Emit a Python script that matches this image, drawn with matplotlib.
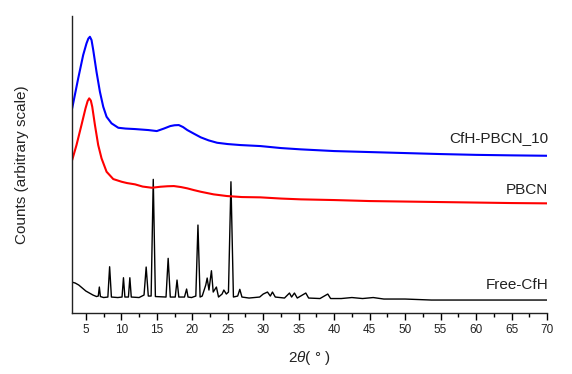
import matplotlib
matplotlib.use("Agg")
import matplotlib.pyplot as plt
from matplotlib.ticker import MultipleLocator

plt.rcParams['font.family'] = ['Liberation Sans', 'DejaVu Sans']
plt.rcParams['mathtext.fontset'] = 'custom'
plt.rcParams['mathtext.it'] = 'Liberation Sans:italic'
plt.rcParams['mathtext.rm'] = 'Liberation Sans'

# ---- data (2theta in degrees, counts in arbitrary stacked scale) ----
free_x = [3.0, 3.5, 4.0, 4.5, 5.0, 5.5, 6.0, 6.5, 6.75, 6.9, 7.05, 7.5, 8.1, 8.35, 8.6,
          9.5, 10.1, 10.3, 10.5, 11.0, 11.2, 11.4, 12.5, 13.2, 13.5, 13.8, 14.2, 14.5, 14.8,
          16.3, 16.6, 16.9, 17.6, 17.85, 18.1, 18.9, 19.2, 19.4, 19.9, 20.5, 20.8, 21.1,
          21.4, 21.9, 22.1, 22.35, 22.7, 22.95, 23.4, 23.7, 24.2, 24.45, 24.8, 25.1, 25.45,
          25.8, 26.4, 26.7, 27.0, 28.0, 29.5, 30.0, 30.6, 31.0, 31.3, 31.7, 33.0, 33.7, 34.0,
          34.4, 34.8, 36.0, 36.4, 38.0, 39.1, 39.5, 41.0, 42.5, 44.0, 45.5, 47.0, 50.0, 53.7,
          60.0, 65.0, 70.0]
free_px = [282, 283, 285, 288, 291, 293, 295, 296.5, 296, 287, 296.5, 297.5, 297, 266.7, 297,
           297.5, 297, 277.7, 297, 297, 277.7, 297, 297.5, 295, 267, 296, 296, 179.3, 296.5,
           297, 258.3, 297, 297, 280, 297, 297, 289, 297, 297.5, 296, 225, 297,
           296, 285, 278, 290, 270.7, 292, 287, 297, 294, 290, 294, 292, 181.7,
           297, 296, 289.3, 297, 298, 297, 294, 292, 296, 292, 297, 298, 293, 297,
           293, 298, 293, 298, 298.5, 294, 298.5, 298.5, 297.5, 298.5, 297.5, 299, 299, 300,
           300, 300, 300]

pbcn_x = [3.0, 3.07, 3.68, 4.38, 4.95, 5.25, 5.47, 5.7, 5.9, 6.28, 6.74, 7.21, 7.92, 8.86,
          10.04, 10.8, 11.93, 13.0, 14.3, 15.5, 16.5, 17.4, 18.4, 19.3, 20.2, 21.2, 23.0,
          24.9, 27.0, 29.6, 32.5, 35.3, 40.0, 45.0, 50.0, 55.0, 60.0, 65.0, 70.0]
pbcn_px = [160, 160, 145, 125, 108.3, 101, 98.3, 100.5, 106.7, 125, 145, 158.3, 171.7, 179,
           181.7, 183, 184.3, 186.5, 187.7, 186.7, 186.2, 186, 187, 188.3, 190, 191.7, 194.3,
           196, 197, 197.3, 198.5, 199.3, 200, 201, 201.5, 202, 202.5, 203, 203.3]

comp_x = [3.0, 3.07, 3.92, 4.62, 5.09, 5.35, 5.57, 5.8, 6.04, 6.5, 6.98, 7.45, 7.92, 8.62,
          9.57, 10.6, 11.93, 13.81, 15.0, 16.0, 16.9, 17.5, 18.1, 18.7, 19.3, 20.2, 21.2,
          22.3, 23.5, 25.0, 26.8, 29.6, 32.5, 35.3, 40.0, 45.0, 50.0, 55.0, 60.0, 65.0, 70.0]
comp_px = [108.3, 108.3, 78.3, 55, 43.3, 38.5, 36.7, 40, 50, 71.7, 91.7, 106.7, 116.7, 123.3,
           127.7, 128.5, 129, 130, 131, 128.5, 126, 125.2, 125, 127, 130, 133.5, 137.3,
           140.3, 142.7, 144, 145, 146, 148, 149.3, 151, 152, 153, 154, 154.8, 155.3, 155.7]

labels = ["CfH-PBCN_10", "PBCN", "Free-CfH"]
label_px = [138, 190, 285]

BASE = 313  # counts = BASE - read pixel level
free_y = [BASE - v for v in free_px]
pbcn_y = [BASE - v for v in pbcn_px]
comp_y = [BASE - v for v in comp_px]
label_y = [BASE - v for v in label_px]

fig = plt.figure(figsize=(5.72, 3.74), dpi=100)
ax = fig.add_axes([0.1253, 0.163, 0.8310, 0.794])

ax.plot(free_x, free_y, color='black', lw=1.0)
ax.plot(pbcn_x, pbcn_y, color='#ff0000', lw=1.5)
ax.plot(comp_x, comp_y, color='#0000ff', lw=1.5)

for lab, ly in zip(labels, label_y):
    ax.text(70.2, ly, lab, ha='right', va='center', fontsize=11, color='#222222')

ax.set_xlim(3, 70)
ax.set_ylim(0, 297)
ax.xaxis.set_major_locator(MultipleLocator(5))
ax.xaxis.set_minor_locator(MultipleLocator(2.5))
ax.tick_params(axis='x', which='major', direction='out', length=5, width=1,
               labelsize=8.5, labelcolor='#222222', pad=3)
ax.tick_params(axis='x', which='minor', direction='out', length=3, width=1)
ax.set_yticks([])
for s in ['top', 'right']:
    ax.spines[s].set_visible(False)
for s in ['left', 'bottom']:
    ax.spines[s].set_linewidth(1.0)
    ax.spines[s].set_color('#222222')

ax.set_xlabel(r'2$\it{\theta}$( ° )', fontsize=11, labelpad=9, color='#222222')
ax.set_ylabel('Counts (arbitrary scale)', fontsize=11, labelpad=31, color='#222222')

fig.savefig('out.png', dpi=100)
